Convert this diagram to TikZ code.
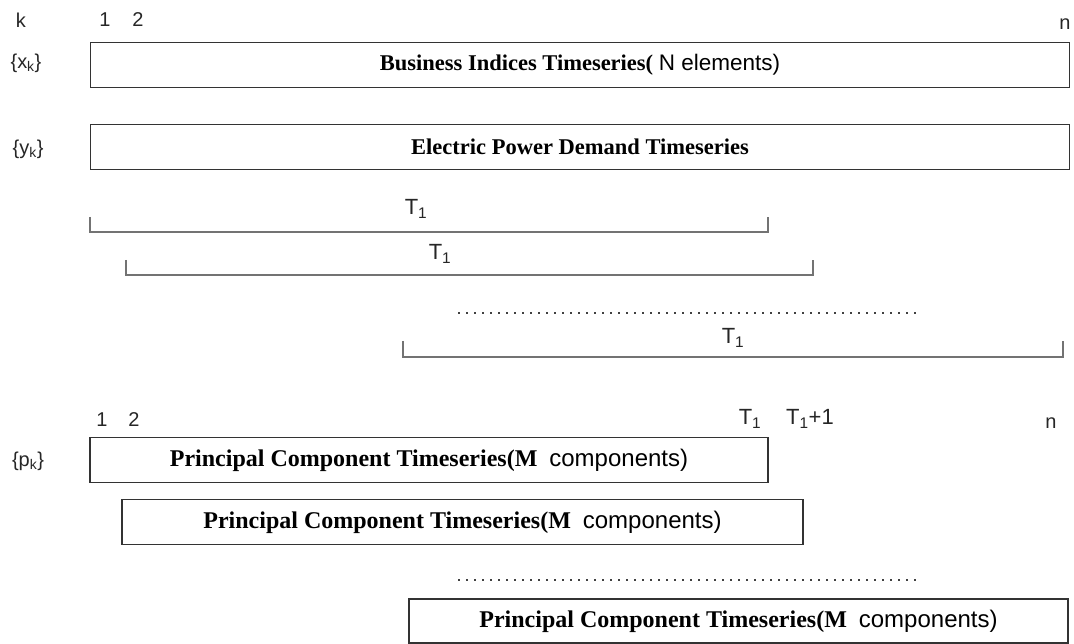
\documentclass[tikz,border=0pt]{standalone}
\usepackage{fontspec}
\setmainfont{Liberation Serif}
\setsansfont{Liberation Sans}
\begin{document}
\begin{tikzpicture}[x=1pt,y=-1pt,
  series/.style={draw=black!80, line width=1.7pt, minimum height=45pt, inner sep=0pt,
    font=\fontsize{24}{27}\selectfont\bfseries},
  wide/.style={series, font=\fontsize{22.5}{26}\selectfont\bfseries},
  lbl/.style={font=\sffamily\fontsize{20}{23}\selectfont, text=black!85, inner sep=0pt},
  tlbl/.style={lbl, font=\sffamily\fontsize{22}{25}\selectfont},
  win/.style={draw=black!55, line width=1.3pt},
  dots/.style={draw=black!75, line width=1.5pt, dash pattern=on 1.5pt off 6.5pt}]
\useasboundingbox (0,0) rectangle (1074,644);
\newcommand{\sfpart}[1]{\textnormal{\sffamily #1}}

% index row on top
\node[lbl] (k)  at (21,20)   {k};
\node[lbl] (i1) at (105,20)  {1};
\node[lbl] (i2) at (138,20)  {2};
\node[lbl] (in) at (1065,24) {n};

% input series
\node[lbl] (xk) at (26,63)  {\{x\textsubscript{k}\}};
\node[wide, minimum width=979pt] (bix) at (580,65)
  {Business Indices Timeseries(\ \sfpart{N elements)}};
\node[lbl] (yk) at (28,149) {\{y\textsubscript{k}\}};
\node[wide, minimum width=979pt] (epd) at (580,147)
  {Electric Power Demand Timeseries};

% sliding windows
\draw[win] (90,217) -- (90,232) -- (768,232) -- (768,217);
\node[tlbl] (t1) at (416,209) {T\textsubscript{1}};
\draw[win] (126,260) -- (126,275) -- (813,275) -- (813,260);
\node[tlbl] (t2) at (440,254) {T\textsubscript{1}};
\coordinate (d1a) at (458,313);
\coordinate (d1b) at (917,313);
\draw[dots] (d1a) -- (d1b);
\draw[win] (403,341) -- (403,357) -- (1063,357) -- (1063,341);
\node[tlbl] (t3) at (733,338) {T\textsubscript{1}};

% index row for the components
\node[lbl] (j1)  at (102,420) {1};
\node[lbl] (j2)  at (134,420) {2};
\node[tlbl] (jt)  at (750,419) {T\textsubscript{1}};
\node[tlbl] (jt1) at (810,419) {T\textsubscript{1}+1};
\node[lbl] (jn)  at (1051,423) {n};

% principal component series
\node[lbl] (pk) at (28,461) {\{p\textsubscript{k}\}};
\node[series, minimum width=678pt] (pc1) at (429,460)
  {Principal Component Timeseries(M\ \ \sfpart{components)}};
\node[series, minimum width=681pt] (pc2) at (462.5,522)
  {Principal Component Timeseries(M\ \ \sfpart{components)}};
\coordinate (d2a) at (458,580);
\coordinate (d2b) at (917,580);
\draw[dots] (d2a) -- (d2b);
\node[series, minimum width=659pt, minimum height=44pt] (pc3) at (738.5,621)
  {Principal Component Timeseries(M\ \ \sfpart{components)}};
\end{tikzpicture}
\end{document}
